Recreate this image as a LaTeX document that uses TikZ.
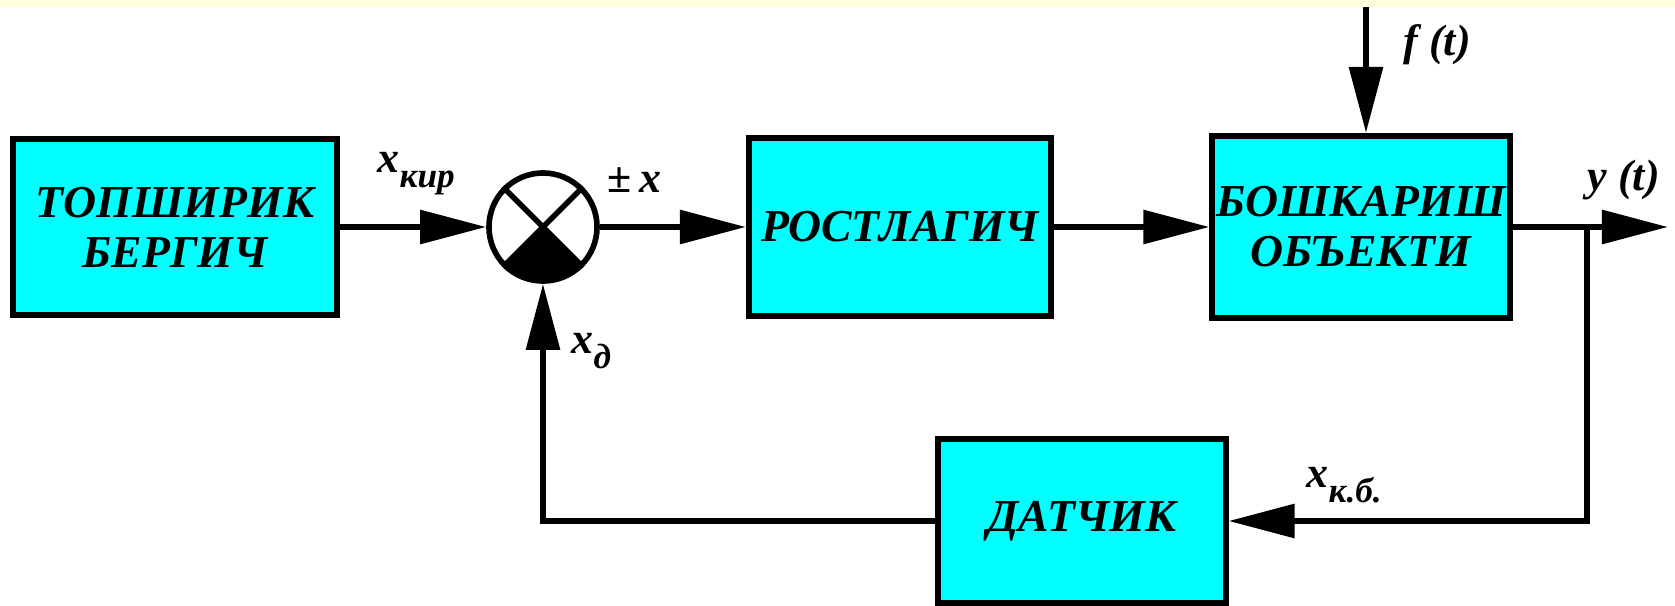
\documentclass[tikz,border=0pt]{standalone}
\usepackage{fontspec}
\setmainfont{Liberation Serif}
\usetikzlibrary{arrows.meta}
\definecolor{fond}{RGB}{255,255,224}
\definecolor{bleu}{RGB}{0,255,255}
\newcommand{\ind}[1]{\raisebox{-4.5pt}{\fontsize{10}{10}\selectfont #1}}

\begin{document}
\begin{tikzpicture}[x=0.01cm,y=-0.01cm,
   bloc/.style={draw,line width=1.7pt,fill=bleu,align=center,inner sep=0pt,
     font=\fontsize{13}{14.2}\selectfont\bfseries\itshape},
   som/.style={draw,circle,line width=1.6pt,minimum size=1.08cm,inner sep=0pt},
   sig/.style={line width=1.7pt,-{Triangle[length=6.6mm,width=3.3mm]}},
   lab/.style={anchor=base west,inner sep=0pt,font=\fontsize{12.5}{12.5}\selectfont\bfseries\itshape}]
   \useasboundingbox (0,0) rectangle (1675,606);
   \fill[fond] (0,0) rectangle (1675,7);
   % les blocs
   \node[bloc,minimum width=3.23cm,minimum height=1.75cm] (zad) at (175,227) {ТОПШИРИК\\БЕРГИЧ};
   \node[som] (sum) at (543,227) {};
   \node[bloc,minimum width=3.02cm,minimum height=1.77cm] (reg) at (900,227) {РОСТЛАГИЧ};
   \node[bloc,minimum width=2.97cm,minimum height=1.82cm] (obj) at (1361,227) {БОШКАРИШ\\ОБЪЕКТИ};
   \node[bloc,minimum width=2.87cm,minimum height=1.64cm] (dat) at (1082,521) {ДАТЧИК};
   % comparateur
   \draw[line width=1.6pt] (sum.north west) -- (sum.south east) (sum.north east) -- (sum.south west);
   \fill (sum.center) -- (sum.south west) arc[start angle=225,end angle=315,radius=0.54cm] -- cycle;
   \coordinate (pert) at (1366,7);
   \coordinate (out) at (1668,227);
   \coordinate (br) at (1587,227);
   \draw[sig] (zad) -- (sum);
   \draw[sig] (sum) -- (reg);
   \draw[sig] (reg) -- (obj);
   \draw[sig] (obj) -- (out);
   \draw[sig] (pert) -- (pert |- obj.north);
   \draw[sig] (br) |- (dat.east);
   \draw[sig] (dat.west) -| (sum.south);
   % les signaux
   \node[lab] (lxk) at (377,172) {x\ind{кир}};
   \node[lab] (lpm) at (607,192) {±\,x};
   \node[lab] (lf) at (1403,55) {f (t)};
   \node[lab] (ly) at (1587,190) {y (t)};
   \node[lab] (lxd) at (571,353) {x\ind{д}};
   \node[lab] (lxkb) at (1306,487) {x\ind{к.б.}};
\end{tikzpicture}
\end{document}
